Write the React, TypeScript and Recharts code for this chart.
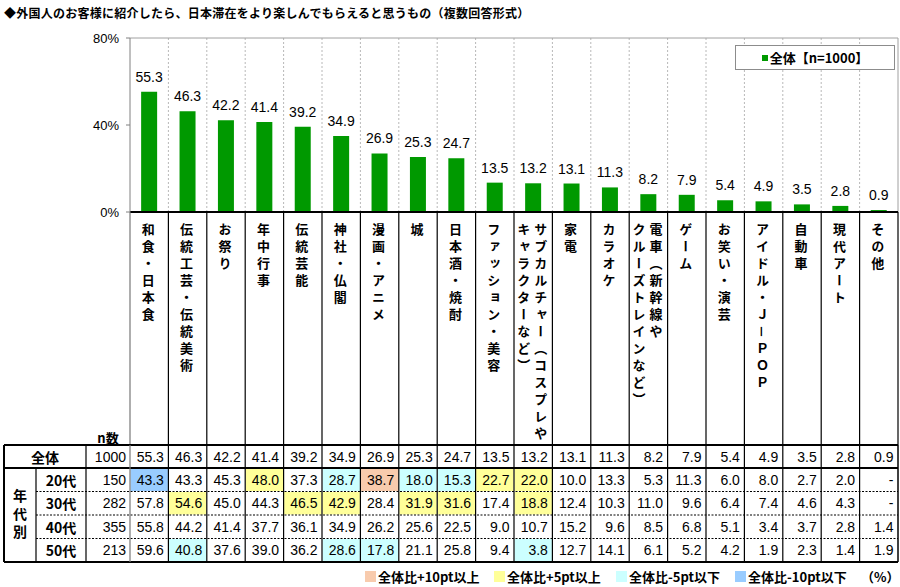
import { BarChart, Bar, XAxis, YAxis, CartesianGrid, LabelList, Legend, ReferenceLine } from "recharts";

const TITLE = "◆外国人のお客様に紹介したら、日本滞在をより楽しんでもらえると思うもの（複数回答形式）";

// two-column labels are split with "\n" (first line is drawn on the right)
const categories = [
  "和食・日本食",
  "伝統工芸・伝統美術",
  "お祭り",
  "年中行事",
  "伝統芸能",
  "神社・仏閣",
  "漫画・アニメ",
  "城",
  "日本酒・焼酎",
  "ファッション・美容",
  "サブカルチャー（コスプレや\nキャラクターなど）",
  "家電",
  "カラオケ",
  "電車（新幹線や\nクルーズトレインなど）",
  "ゲーム",
  "お笑い・演芸",
  "アイドル・Ｊ－ＰＯＰ",
  "自動車",
  "現代アート",
  "その他",
];

const overall = [55.3, 46.3, 42.2, 41.4, 39.2, 34.9, 26.9, 25.3, 24.7, 13.5, 13.2, 13.1, 11.3, 8.2, 7.9, 5.4, 4.9, 3.5, 2.8, 0.9];
const age20 = [43.3, 43.3, 45.3, 48.0, 37.3, 28.7, 38.7, 18.0, 15.3, 22.7, 22.0, 10.0, 13.3, 5.3, 11.3, 6.0, 8.0, 2.7, 2.0, null];
const age30 = [57.8, 54.6, 45.0, 44.3, 46.5, 42.9, 28.4, 31.9, 31.6, 17.4, 18.8, 12.4, 10.3, 11.0, 9.6, 6.4, 7.4, 4.6, 4.3, null];
const age40 = [55.8, 44.2, 41.4, 37.7, 36.1, 34.9, 26.2, 25.6, 22.5, 9.0, 10.7, 15.2, 9.6, 8.5, 6.8, 5.1, 3.4, 3.7, 2.8, 1.4];
const age50 = [59.6, 40.8, 37.6, 39.0, 36.2, 28.6, 17.8, 21.1, 25.8, 9.4, 3.8, 12.7, 14.1, 6.1, 5.2, 4.2, 1.9, 2.3, 1.4, 1.9];

const ageLabels = ["20代", "30代", "40代", "50代"];
const ageN = [150, 282, 355, 213];
const totalN = 1000;
const yTicks = [0, 40, 80];

const legendItems = [
  { label: "全体比+10pt以上", color: "#F8CBAD", x: 365 },
  { label: "全体比+5pt以上", color: "#FFFF99", x: 494 },
  { label: "全体比-5pt以下", color: "#CCFFFF", x: 616 },
  { label: "全体比-10pt以下", color: "#99CCFF", x: 735 },
];

const data = categories.map((name, i) => ({ name, value: overall[i] }));

const GREEN = "#009900";
const NUM_FONT = "'Liberation Sans', Arial, sans-serif";
const JP_FONT = "'Noto Sans CJK JP', 'Noto Sans', sans-serif";

const W = 900;
const CHART_H = 445;
const PLOT_LEFT = 130;
const PLOT_RIGHT = 898;
const LABEL_H = 233;
const BAND = (PLOT_RIGHT - PLOT_LEFT) / categories.length;

const TABLE_TOP = 445;
const HEAD_BOTTOM = 468;
const ROW_H = 23.5;
const TABLE_BOTTOM = HEAD_BOTTOM + ROW_H * 4;

const cellColor = (v: number | null, base: number) => {
  if (v == null) return null;
  const d = v - base;
  if (d >= 10) return legendItems[0].color;
  if (d >= 5) return legendItems[1].color;
  if (d <= -10) return legendItems[3].color;
  if (d <= -5) return legendItems[2].color;
  return null;
};

const CategoryTick = (props: any) => {
  const { x, y, payload } = props;
  const index = payload?.index ?? props.index;
  const lines = String(payload.value).split("\n");
  const half = BAND / 2;
  return (
    <g>
      <line x1={x - half} x2={x - half} y1={y} y2={y + LABEL_H} stroke={index === 0 ? "#777" : "#000"} strokeWidth={1.2} />
      {index === categories.length - 1 && (
        <line x1={x + half} x2={x + half} y1={y} y2={y + LABEL_H} stroke="#000" strokeWidth={1.2} />
      )}
      {lines.map((line, i) => (
        <text
          key={i}
          x={x - 1 + ((lines.length - 1) / 2 - i) * 17}
          y={y + 11}
          style={{ writingMode: "vertical-rl" }}
          fontFamily={JP_FONT}
          fontWeight="bold"
          fontSize={13}
          letterSpacing={4}
          fill="#000"
        >
          {line}
        </text>
      ))}
    </g>
  );
};

const ChartLegend = () => (
  <div
    style={{
      width: 160,
      height: 25,
      boxSizing: "border-box",
      border: "1px solid #8c8c8c",
      background: "#fff",
      display: "flex",
      alignItems: "center",
      justifyContent: "center",
      fontFamily: JP_FONT,
      fontWeight: "bold",
      fontSize: 13,
      color: "#000",
    }}
  >
    <span style={{ width: 6, height: 6, background: GREEN, marginRight: 2, display: "inline-block" }} />
    全体【n={totalN}】
  </div>
);

const ageRows = [age20, age30, age40, age50];

const TableOverlay = () => {
  const colL = (i: number) => PLOT_LEFT + i * BAND;
  const rowTop = (r: number) => HEAD_BOTTOM + r * ROW_H;
  return (
    <svg width={W} height={587} style={{ position: "absolute", left: 0, top: 0, pointerEvents: "none" }}>
      <text x={4} y={12} dominantBaseline="central" fontFamily={JP_FONT} fontWeight="bold" fontSize={12} letterSpacing={0.25}>
        {TITLE}
      </text>

      {/* coloured cells */}
      {ageRows.map((row, r) =>
        row.map((v, i) => {
          const c = cellColor(v, overall[i]);
          return c ? (
            <rect key={`c${r}-${i}`} x={colL(i) + 0.5} y={rowTop(r) + 0.5} width={BAND - 1} height={ROW_H - 1} fill={c} />
          ) : null;
        })
      )}

      {/* n数 header */}
      <text x={108} y={437} textAnchor="middle" dominantBaseline="central" fontFamily={JP_FONT} fontWeight="bold" fontSize={13}>
        n数
      </text>

      {/* grid lines */}
      {[1, 2, 3].map((r) => (
        <line key={`d${r}`} x1={36} x2={PLOT_RIGHT} y1={rowTop(r)} y2={rowTop(r)} stroke="#000" strokeWidth={1} strokeDasharray="2 1.5" />
      ))}
      <line x1={4} x2={PLOT_RIGHT} y1={TABLE_TOP} y2={TABLE_TOP} stroke="#000" strokeWidth={2} />
      <line x1={4} x2={PLOT_RIGHT} y1={HEAD_BOTTOM} y2={HEAD_BOTTOM} stroke="#000" strokeWidth={2} />
      <line x1={4} x2={PLOT_RIGHT} y1={TABLE_BOTTOM} y2={TABLE_BOTTOM} stroke="#000" strokeWidth={2} />
      <line x1={4} x2={4} y1={TABLE_TOP} y2={TABLE_BOTTOM} stroke="#000" strokeWidth={2} />
      <line x1={36} x2={36} y1={HEAD_BOTTOM} y2={TABLE_BOTTOM} stroke="#000" strokeWidth={1.2} />
      <line x1={86} x2={86} y1={TABLE_TOP} y2={TABLE_BOTTOM} stroke="#000" strokeWidth={1.2} />
      {categories.map((_, i) => (
        <line key={`v${i}`} x1={colL(i)} x2={colL(i)} y1={TABLE_TOP} y2={TABLE_BOTTOM} stroke={i === 0 ? "#777" : "#000"} strokeWidth={1.2} />
      ))}
      <line x1={PLOT_RIGHT} x2={PLOT_RIGHT} y1={TABLE_TOP} y2={TABLE_BOTTOM} stroke="#000" strokeWidth={1.5} />

      {/* row headers */}
      <text x={45} y={(TABLE_TOP + HEAD_BOTTOM) / 2} textAnchor="middle" dominantBaseline="central" fontFamily={JP_FONT} fontWeight="bold" fontSize={14}>
        全体
      </text>
      <text x={20} y={489} style={{ writingMode: "vertical-rl" }} fontFamily={JP_FONT} fontWeight="bold" fontSize={14} letterSpacing={4}>
        年代別
      </text>
      {ageLabels.map((lab, r) => (
        <text key={lab} x={61} y={rowTop(r) + ROW_H / 2} textAnchor="middle" dominantBaseline="central" fontFamily={JP_FONT} fontWeight="bold" fontSize={14}>
          {lab}
        </text>
      ))}

      {/* n counts */}
      <text x={126} y={(TABLE_TOP + HEAD_BOTTOM) / 2} textAnchor="end" dominantBaseline="central" fontFamily={NUM_FONT} fontSize={14}>
        {totalN}
      </text>
      {ageN.map((n, r) => (
        <text key={`n${r}`} x={126} y={rowTop(r) + ROW_H / 2} textAnchor="end" dominantBaseline="central" fontFamily={NUM_FONT} fontSize={14}>
          {n}
        </text>
      ))}

      {/* values */}
      {overall.map((v, i) => (
        <text key={`o${i}`} x={colL(i + 1) - 4.5} y={(TABLE_TOP + HEAD_BOTTOM) / 2} textAnchor="end" dominantBaseline="central" fontFamily={NUM_FONT} fontSize={14}>
          {v.toFixed(1)}
        </text>
      ))}
      {ageRows.map((row, r) =>
        row.map((v, i) => (
          <text key={`t${r}-${i}`} x={colL(i + 1) - 4.5} y={rowTop(r) + ROW_H / 2} textAnchor="end" dominantBaseline="central" fontFamily={NUM_FONT} fontSize={14}>
            {v == null ? "-" : v.toFixed(1)}
          </text>
        ))
      )}

      {/* colour key */}
      {legendItems.map((it) => (
        <g key={it.label}>
          <rect x={it.x} y={571} width={11} height={11} fill={it.color} />
          <text x={it.x + 13} y={576.5} dominantBaseline="central" fontFamily={JP_FONT} fontWeight="bold" fontSize={13}>
            {it.label}
          </text>
        </g>
      ))}
      <text x={861} y={576.5} dominantBaseline="central" fontFamily={JP_FONT} fontWeight="bold" fontSize={13}>
        （%）
      </text>
    </svg>
  );
};

export default function App() {
  return (
    <div style={{ position: "absolute", left: 0, top: 0, width: W, height: 587, background: "#fff" }}>
      <BarChart
        width={W}
        height={CHART_H}
        data={data}
        margin={{ top: 38, right: W - PLOT_RIGHT, bottom: 0, left: 70 }}
        barCategoryGap="29%"
      >
        <CartesianGrid
          horizontal={false}
          stroke="#b8b8b8"
          strokeDasharray="2 2"
          verticalCoordinatesGenerator={({ offset }: any) =>
            categories.slice(1).map((_, i) => offset.left + ((i + 1) * offset.width) / categories.length)
          }
        />
        <ReferenceLine y={80} stroke="#a0a0a0" />
        <ReferenceLine x={categories[categories.length - 1]} position="end" stroke="#a0a0a0" />
        <XAxis
          dataKey="name"
          interval={0}
          height={LABEL_H}
          tickLine={false}
          tickSize={0}
          tickMargin={0}
          axisLine={{ stroke: "#000", strokeWidth: 2 }}
          tick={<CategoryTick />}
        />
        <YAxis
          type="number"
          domain={[0, 80]}
          ticks={yTicks}
          width={60}
          tickSize={4}
          tickMargin={7}
          tickFormatter={(v: number) => `${v}%`}
          axisLine={{ stroke: "#808080" }}
          tickLine={{ stroke: "#808080" }}
          tick={{ fontSize: 13, fill: "#000", fontFamily: NUM_FONT }}
        />
        <Legend
          layout="vertical"
          align="center"
          verticalAlign="middle"
          wrapperStyle={{ left: 735, top: 45, width: 160, height: 25 }}
          content={() => <ChartLegend />}
        />
        <Bar dataKey="value" name="全体" fill={GREEN} isAnimationActive={false}>
          <LabelList
            dataKey="value"
            position="top"
            offset={10}
            fontSize={14}
            fill="#000"
            fontFamily={NUM_FONT}
            formatter={(v: any) => Number(v).toFixed(1)}
          />
        </Bar>
      </BarChart>
      <TableOverlay />
    </div>
  );
}
